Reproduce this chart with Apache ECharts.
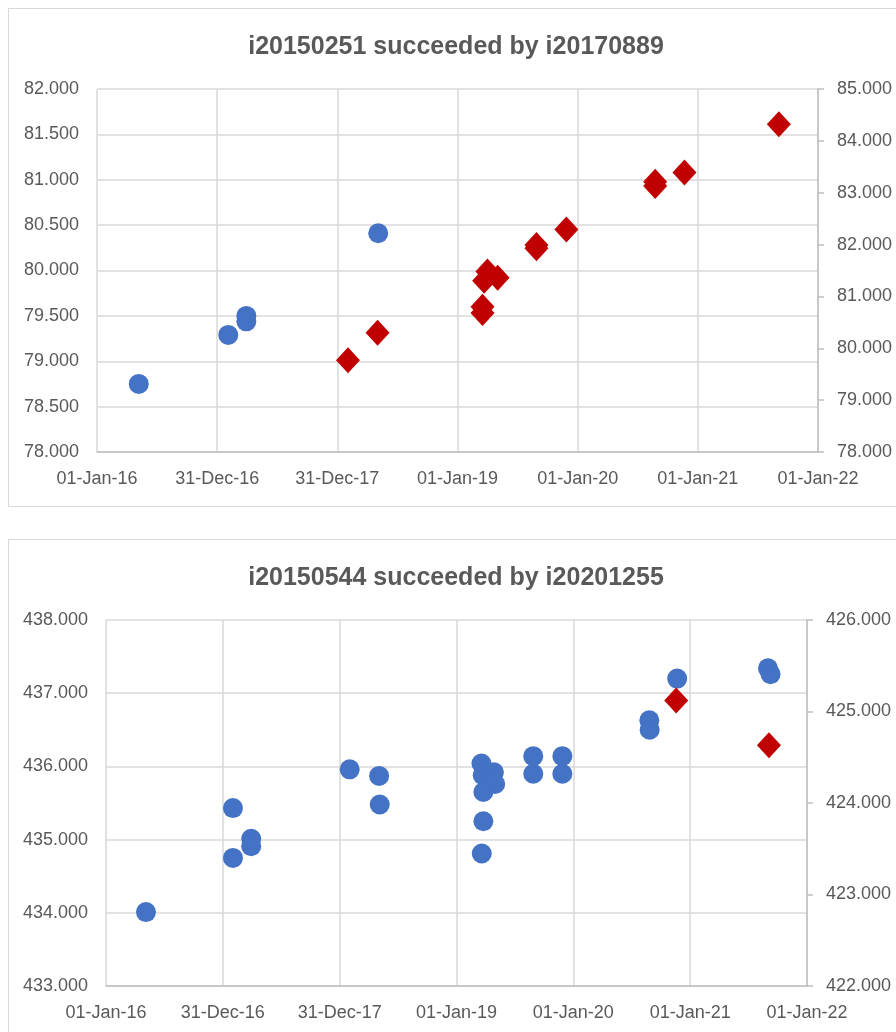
<!DOCTYPE html>
<html>
<head>
    <meta charset="utf-8">
    <title>Successor index comparison</title>
    <script src="https://cdn.jsdelivr.net/npm/echarts@6/dist/echarts.min.js"></script>
    <style>
        html, body {
            margin: 0;
            padding: 0;
            background: #ffffff;
            overflow: hidden;
            width: 896px;
            height: 1032px;
        }
        .panel {
            position: absolute;
            left: 8px;
            width: 894px;
            border: 1px solid #d9d9d9;
            background: #ffffff;
        }
        #chart1 { top: 8px; height: 497px; }
        #chart2 { top: 539px; height: 500px; }
    </style>
</head>
<body>
    <div id="chart1" class="panel"></div>
    <div id="chart2" class="panel"></div>

    <script type="text/javascript">
        // x axis runs from 01-Jan-16 to 01-Jan-22 in six equal steps (like Excel)
        const xTickLabels = ['01-Jan-16', '31-Dec-16', '31-Dec-17', '01-Jan-19', '01-Jan-20', '01-Jan-21', '01-Jan-22'];

        // chart 1: i20150251 (left axis, blue) and i20170889 (right axis, red)
        const title1 = 'i20150251 succeeded by i20170889';
        const old1Dates = ['2016-05-07', '2017-02-03', '2017-03-30', '2017-03-30', '2018-05-05'];
        const old1Values = [78.75, 79.29, 79.50, 79.44, 80.41];
        const new1Dates = ['2018-02-02', '2018-05-03', '2019-03-18', '2019-03-18', '2019-03-23', '2019-04-02', '2019-05-03',
            '2019-08-29', '2019-08-29', '2019-11-28', '2020-08-24', '2020-08-24', '2020-11-21', '2021-09-04'];
        const new1Values = [79.77, 80.30, 80.68, 80.80, 81.30, 81.48, 81.36,
            81.93, 81.99, 82.29, 83.13, 83.21, 83.39, 84.32];
        const left1 = { min: 78, max: 82, interval: 0.5 };
        const right1 = { min: 78, max: 85, interval: 1 };

        // chart 2: i20150544 (left axis, blue) and i20201255 (right axis, red)
        const title2 = 'i20150544 succeeded by i20201255';
        const old2Dates = ['2016-05-05', '2017-02-01', '2017-02-01', '2017-03-30', '2017-03-30', '2018-02-01', '2018-05-04', '2018-05-06',
            '2019-03-20', '2019-03-24', '2019-04-28', '2019-05-02', '2019-03-26', '2019-03-26', '2019-03-21',
            '2019-08-29', '2019-08-29', '2019-11-28', '2019-11-28', '2020-08-26', '2020-08-27', '2020-11-21',
            '2021-09-01', '2021-09-09'];
        const old2Values = [434.01, 435.43, 434.75, 435.01, 434.91, 435.96, 435.87, 435.48,
            436.04, 435.88, 435.92, 435.76, 435.65, 435.25, 434.81,
            436.14, 435.90, 436.14, 435.90, 436.63, 436.50, 437.20,
            437.34, 437.26];
        const new2Dates = ['2020-11-18', '2021-09-04'];
        const new2Values = [425.12, 424.63];
        const left2 = { min: 433, max: 438, interval: 1 };
        const right2 = { min: 422, max: 426, interval: 1 };

        const ORIGIN = Date.UTC(2016, 0, 1);
        const SPAN = Date.UTC(2022, 0, 1) - ORIGIN;
        const STEP = SPAN / 6;

        const FONT = "'Liberation Sans', Arial, sans-serif";
        const LABEL_COLOR = '#595959';

        function toPoints(dates, values) {
            return dates.map(function (d, i) {
                return [Date.parse(d) - ORIGIN, values[i]];
            });
        }

        function makeOption(title, grid, leftAx, rightAx, oldPts, newPts) {
            return {
                animation: false,
                textStyle: { fontFamily: FONT },
                title: {
                    text: title,
                    left: 'center',
                    top: 21,
                    textStyle: { fontSize: 25, fontWeight: 'bold', color: LABEL_COLOR, fontFamily: FONT }
                },
                grid: grid,
                xAxis: {
                    type: 'value',
                    min: 0,
                    max: SPAN,
                    interval: STEP,
                    axisLine: { show: true, lineStyle: { color: '#bfbfbf', width: 1.5 } },
                    axisTick: { show: false },
                    splitLine: { show: true, lineStyle: { color: '#d9d9d9', width: 1.5 } },
                    axisLabel: {
                        margin: 18,
                        fontSize: 18,
                        color: LABEL_COLOR,
                        fontFamily: FONT,
                        formatter: function (v) {
                            return xTickLabels[Math.round(v / STEP)];
                        }
                    }
                },
                yAxis: [{
                    type: 'value',
                    position: 'left',
                    min: leftAx.min,
                    max: leftAx.max,
                    interval: leftAx.interval,
                    axisLine: { show: false },
                    axisTick: { show: false },
                    splitLine: { show: true, lineStyle: { color: '#d9d9d9', width: 1.5 } },
                    axisLabel: {
                        margin: 18,
                        fontSize: 18,
                        color: LABEL_COLOR,
                        fontFamily: FONT,
                        formatter: function (v) { return v.toFixed(3); }
                    }
                }, {
                    type: 'value',
                    position: 'right',
                    min: rightAx.min,
                    max: rightAx.max,
                    interval: rightAx.interval,
                    axisLine: { show: true, lineStyle: { color: '#bfbfbf', width: 1.5 } },
                    axisTick: { show: true, inside: false, length: 6, lineStyle: { color: '#bfbfbf', width: 1.5 } },
                    splitLine: { show: false },
                    axisLabel: {
                        margin: 19,
                        fontSize: 18,
                        color: LABEL_COLOR,
                        fontFamily: FONT,
                        formatter: function (v) { return v.toFixed(3); }
                    }
                }],
                series: [{
                    name: 'old',
                    type: 'scatter',
                    yAxisIndex: 0,
                    symbol: 'circle',
                    symbolSize: 20,
                    itemStyle: { color: '#4472c4', opacity: 1 },
                    data: oldPts
                }, {
                    name: 'new',
                    type: 'scatter',
                    yAxisIndex: 1,
                    symbol: 'diamond',
                    symbolSize: [24, 26],
                    itemStyle: { color: '#c00000', opacity: 1 },
                    data: newPts
                }]
            };
        }

        const chart1 = echarts.init(document.getElementById('chart1'));
        chart1.setOption(makeOption(title1,
            { left: 88, top: 80, width: 721, height: 363 },
            left1, right1,
            toPoints(old1Dates, old1Values), toPoints(new1Dates, new1Values)));

        const chart2 = echarts.init(document.getElementById('chart2'));
        chart2.setOption(makeOption(title2,
            { left: 97, top: 80, width: 701, height: 366 },
            left2, right2,
            toPoints(old2Dates, old2Values), toPoints(new2Dates, new2Values)));
    </script>
</body>
</html>
